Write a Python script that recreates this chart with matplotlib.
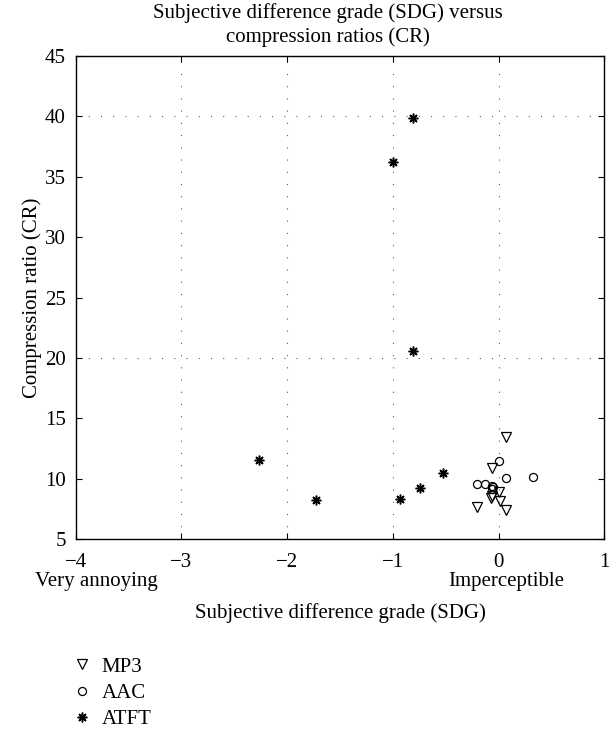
import numpy as np
import matplotlib.pyplot as plt

plt.rcParams['font.family'] = ['Liberation Serif', 'DejaVu Serif']

# data
mp3_sdg = [0.07, -0.06, -0.20, 0.07, 0.00, -0.07, 0.01, -0.06]
mp3_cr = [13.46, 10.90, 7.65, 7.40, 8.90, 8.45, 8.15, 8.60]
aac_sdg = [0.00, 0.07, 0.33, -0.20, -0.13, -0.06, -0.06, -0.05]
aac_cr = [11.45, 10.05, 10.15, 9.55, 9.55, 9.40, 9.20, 9.30]
atft_sdg = [-0.81, -1.00, -0.81, -2.27, -1.73, -0.93, -0.74, -0.53]
atft_cr = [39.9, 36.25, 20.6, 11.55, 8.25, 8.35, 9.25, 10.45]

xticks = [-4, -3, -2, -1, 0, 1]
yticks = [5, 10, 15, 20, 25, 30, 35, 40, 45]

fs = 15

fig = plt.figure(figsize=(6.16, 7.29), dpi=100)
ax = fig.add_axes([0.1229, 0.2602, 0.858, 0.663])

# dotted grid lines
for gx in [-3, -2, -1, 0]:
    ax.axvline(gx, color='0.35', linestyle=(0, (1, 10)), linewidth=0.8, zorder=0)
for gy in [20, 40]:
    ax.axhline(gy, color='0.35', linestyle=(0, (1, 10)), linewidth=0.8, zorder=0)

ast = (8, 2, 0)
ax.plot(mp3_sdg, mp3_cr, linestyle='none', marker='v', markersize=6.8,
        markerfacecolor='none', markeredgecolor='k', markeredgewidth=0.9, label='MP3')
ax.plot(aac_sdg, aac_cr, linestyle='none', marker='o', markersize=5.8,
        markerfacecolor='none', markeredgecolor='k', markeredgewidth=0.9, label='AAC')
ax.plot(atft_sdg, atft_cr, linestyle='none', marker=ast, markersize=7,
        markerfacecolor='k', markeredgecolor='k', markeredgewidth=1.1, label='ATFT')

ax.set_xlim(-4, 1)
ax.set_ylim(5, 45)
ax.set_xticks(xticks)
ax.set_yticks(yticks)
ax.set_xticklabels(['\u22124', '\u22123', '\u22122', '\u22121', '0', '1'])
ax.tick_params(direction='in', length=4, width=0.8, labelsize=fs, top=True, right=True)
ax.tick_params(axis='x', pad=10)
ax.tick_params(axis='y', pad=7)
for s in ax.spines.values():
    s.set_linewidth(1.0)

fig.text(328 / 616, 1 - 25 / 729,
         'Subjective difference grade (SDG) versus\ncompression ratios (CR)',
         ha='center', va='center', fontsize=fs, linespacing=1.35)
ax.set_ylabel('Compression ratio (CR)', fontsize=fs, labelpad=2.5)
ax.set_xlabel('Subjective difference grade (SDG)', fontsize=fs)
ax.xaxis.set_label_coords(0.5, -0.131)

ax.text(-3.80, -0.088, 'Very annoying', transform=ax.get_xaxis_transform(),
        ha='center', va='center', fontsize=fs)
ax.text(0.07, -0.088, 'Imperceptible', transform=ax.get_xaxis_transform(),
        ha='center', va='center', fontsize=fs)

fig.legend(loc='upper left', bbox_to_anchor=(0.1226, 0.0988), frameon=False,
           fontsize=fs, handlelength=0.6, handletextpad=0.66, labelspacing=0.33,
           borderaxespad=0, borderpad=0)

fig.savefig('out.png', dpi=100)
